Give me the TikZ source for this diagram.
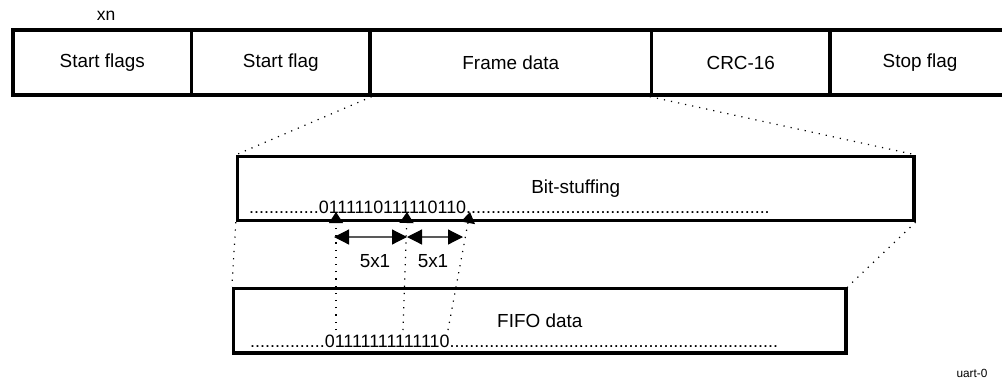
\documentclass[tikz,border=0pt]{standalone}
\usepackage{fontspec}
\setmainfont{Liberation Sans}
\usetikzlibrary{arrows.meta}
\begin{document}
\begin{tikzpicture}[x=1pt,y=-1pt,
 cell/.style={draw, line width=3.3pt, rectangle, inner sep=0pt, minimum height=65pt, font=\fontsize{18.9}{21}\selectfont},
 band/.style={draw, line width=3.3pt, rectangle, inner sep=0pt, font=\fontsize{18.9}{21}\selectfont},
 zoomline/.style={line width=1.2pt, dash pattern=on 1.2pt off 6pt},
 marker/.style={zoomline, -{Triangle[length=11pt,width=14pt]}},
 spanarrow/.style={black!65, line width=1.2pt, {Triangle[length=15pt,width=15pt,color=black]}-{Triangle[length=15pt,width=15pt,color=black]}},
 bits/.style={anchor=base west, inner sep=0pt, font=\fontsize{17.9}{20}\selectfont},
 lbl/.style={inner sep=0pt, font=\fontsize{18.9}{21}\selectfont}]
\useasboundingbox (0,0) rectangle (1002,386);

% top frame
\node[cell, minimum width=178.5pt] (sfs) at (102.25,62.5) {Start flags};
\node[cell, minimum width=178.5pt] (sf) at (280.75,62.5) {Start flag};
\node[cell, minimum width=281.5pt] (fd) at (510.75,62.5) {Frame data};
\node[cell, minimum width=178.5pt] (crc) at (740.75,62.5) {CRC-16};
\node[cell, minimum width=180pt] (stop) at (920,62.5) {Stop flag};
\node[lbl, font=\fontsize{17.5}{20}\selectfont] (xn) at (106,16) {xn};

% bit-stuffing band
\node[band, minimum width=676.5pt, minimum height=64pt] (bit) at (575.75,188.5) {Bit-stuffing};
\node[bits] (bitstr) at (249,213) {..............0111110111110110.............................................................};

% FIFO band
\node[band, minimum width=612.5pt, minimum height=64.5pt] (fifo) at (539.75,320.75) {FIFO data};
\node[bits] (fifostr) at (250,347) {...............01111111111110..................................................................};

% zoom connectors
\draw[zoomline] (sf.south east) -- (bit.north west);
\draw[zoomline] (crc.south west) -- (bit.north east);
\draw[zoomline] (bit.south west) -- (fifo.north west);
\draw[zoomline] (bit.south east) -- (fifo.north east);

% bit markers
\coordinate (m1s) at (336,330); \coordinate (m1t) at (336,212);
\coordinate (m2s) at (403,330); \coordinate (m2t) at (407,212);
\coordinate (m3s) at (448,330); \coordinate (m3t) at (470,212);
\draw[marker] (m1s) -- (m1t);
\draw[marker] (m2s) -- (m2t);
\draw[marker] (m3s) -- (m3t);

% spans
\coordinate (s1) at (334,237);
\coordinate (s2) at (407,237);
\coordinate (s3) at (463,237);
\draw[spanarrow] (s1) -- (s2);
\draw[spanarrow] (s2) -- (s3);
\node[lbl] (n1) at (375,261) {5x1};
\node[lbl] (n2) at (433,261) {5x1};

\node[lbl, font=\fontsize{11.8}{13}\selectfont] (tag) at (972,373) {uart-0};
\end{tikzpicture}
\end{document}
